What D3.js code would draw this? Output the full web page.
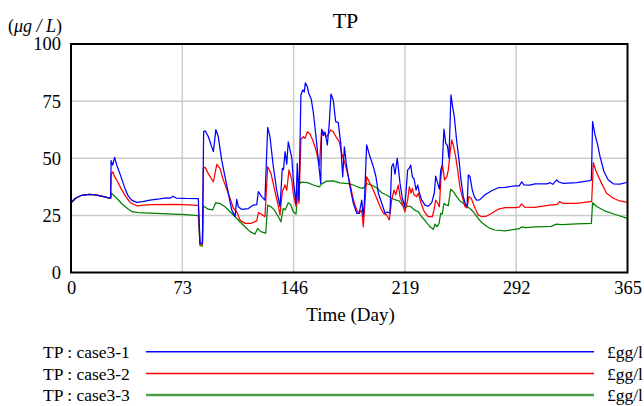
<!DOCTYPE html>
<html>
<head>
<meta charset="utf-8">
<script src="https://cdnjs.cloudflare.com/ajax/libs/d3/7.8.5/d3.min.js"></script>
<style>
body { margin: 0; background: #fff; }
</style>
</head>
<body>
<script>
// day, value pairs
var startPart = [[0,30.5],[3,32.5],[7,33.8],[12,34.2],[16,34],[20,33.4],[24,32.8],[26,32.5]];

var case1 = [[26.3,49],[27.3,47],[28.6,50.4],[30,47],[32,43.4],[35.4,36.8],[37.5,33.5],[39.8,31.7],[43,30.7],[47,31],[51.8,31.7],[58,32.2],[62.7,32.7],[65,32.5],[67,33.4],[69,32.6],[75,32.4],[83.5,32.3],[84.6,12.8],[86.2,12.8],[87,61.7],[88,62],[90,59.5],[93.4,52.9],[95,62.5],[96.6,59.5],[98.8,49.3],[101,42],[103.2,34.7],[105.4,27.4],[107.6,24.5],[108.7,32],[109.7,28.8],[112,27.6],[116.3,28],[119.6,29.5],[121.8,29.7],[122.9,35.4],[125,33.2],[127.2,31.7],[129,63.5],[130.5,59.5],[132.7,46.3],[134.9,36.1],[137.1,28.8],[138.6,45.6],[139.4,45],[140.4,52.9],[141.5,47.4],[142.5,57.2],[144.8,50.3],[145.8,40.5],[147.6,30.3],[148.4,47.8],[149.5,31.7],[150.8,77.7],[152,79.9],[153,79],[153.7,83],[155,81.3],[155.9,78.4],[157.6,75.8],[159,69.7],[160.7,59.4],[162.2,49.2],[163.8,39],[164.4,62.7],[165.5,59.9],[166.6,61.5],[168.1,55.8],[169.4,65.3],[170.5,78.1],[172,75.5],[173.6,66],[175.3,65.6],[176.9,56.5],[178.2,41.9],[179.3,55],[180.8,46.3],[183,37.5],[185.2,30.3],[187.4,25.9],[189,25.9],[190.7,31.7],[191.7,24.4],[192.5,31.7],[193.9,55.8],[196.1,50.7],[198.3,46.3],[200,41.9],[201.6,34.7],[203.8,30.3],[206,25.9],[207.5,26.5],[209.2,25.9],[210.3,46.3],[211.4,47.7],[212.5,43],[214,50],[215.8,39],[217.3,32.5],[219,28.8],[220.8,44.9],[221.8,45.5],[222.8,47],[223.9,41.9],[225,41],[226.3,36.1],[227.4,38.3],[228.3,35.4],[230,31.7],[232.2,29.5],[234.3,29],[236.6,30.6],[238.3,34.8],[239.2,42.2],[240.5,39],[241.6,36.5],[242.5,44.9],[243.5,47],[244.6,62.7],[245.8,56.5],[246.9,55.5],[247.9,50],[249.2,77.7],[250.3,72.6],[251.4,68.2],[252.9,58],[254.5,49.2],[255.8,40.5],[257.3,33.2],[258.9,29.5],[259.8,29],[260.6,42.7],[261.7,42],[263.2,36.1],[264.5,33.2],[266,31.7],[268,31.8],[271.5,34],[275.9,35.8],[280.3,37.1],[284.7,37.3],[291.2,37.9],[294,37.9],[295.6,39.7],[297.1,38.3],[301,38.2],[304.3,38.8],[312,38.8],[314.2,39.3],[316,38.6],[318.5,40.5],[320,39.6],[322.9,39],[331.7,39.3],[338.2,40],[340.4,40.2],[341.3,40.5],[342.1,66],[343.7,60.2],[345.2,56.5],[347,50.7],[349.6,44.1],[352.4,40.5],[355.7,38.8],[360,38.7],[365,39.5]];

var case2 = [[26.3,43],[27.5,44],[28.5,42],[30,40.5],[33,36.5],[36,33.2],[39,30.5],[43,29.2],[52,29.7],[70,29.8],[83.5,29.4],[84.6,12.5],[86.2,12.3],[86.8,45.6],[88,46],[90.5,42.7],[93.4,39.7],[95.6,47.3],[97.7,45.6],[99.9,40.5],[102,36.8],[104.3,32.5],[106.5,28.1],[108.7,26.6],[110.8,23],[114.1,21.5],[118,21.5],[121.8,22.6],[122.9,26.2],[125,25.5],[127.2,24.4],[129,46.3],[131.2,43.3],[133.3,36.8],[135.6,30.3],[137.1,25.2],[138.6,35.4],[140.4,38.3],[141.5,36],[143,44.9],[144.8,40.5],[145.8,34.7],[147.6,28.8],[148.4,36.1],[149.5,30.3],[150.8,58.3],[152.4,59.4],[153.5,58.7],[155,61.6],[156.8,60.6],[158.5,58],[160.7,53.6],[162.9,47],[164.4,62.4],[165.5,61.6],[167.2,59.4],[168.5,60.2],[170.3,62.4],[172,61.6],[173.8,59.4],[176,57.2],[177.5,52.2],[179,49.2],[180.8,44.9],[183,39],[185.2,31.7],[187.4,27.4],[189,25.9],[190.7,27.4],[191.7,20],[192.5,27.4],[193.9,41.9],[196.1,39],[198.3,36.1],[200.5,32.5],[202.7,28.8],[204.9,25.9],[207,25.2],[208.8,23],[210.3,31.7],[211.9,36.1],[213,34],[214.7,38.3],[215.8,33.2],[217.3,30.3],[219,26.6],[220.8,31.7],[221.9,37.5],[223,34.7],[223.9,36.8],[225,34],[226.7,33.2],[227.8,34.7],[229.6,30.3],[231.7,26.6],[234.3,24.4],[237,24.4],[238.3,28.1],[239.2,31.7],[240.5,30.3],[241.6,28.8],[242.7,41.9],[243.7,47],[245,40.5],[246.5,41.9],[247.5,44.9],[248.6,52.2],[249.7,58],[250.8,55.6],[252.3,50.7],[253.6,44.9],[255.1,37.5],[256.6,33.2],[258.4,28.8],[259.8,28.3],[261,33.2],[262.5,32.5],[265,28.1],[267.1,25.2],[269.4,24.4],[272.6,24.7],[275.9,25.9],[280.3,27.7],[284.7,28.4],[291.2,28.4],[294,28.6],[295.6,30],[297.5,28.6],[304,28.5],[314,29.5],[319,29.8],[320.5,31],[322.9,30.2],[331.7,30.3],[340.4,31],[341.5,31],[342.6,48.1],[344.5,44.1],[348,39],[351.3,34.7],[355.7,32.5],[360,31.3],[365,30.7]];

var case3 = [[26.5,34.7],[30,32.5],[33,30.3],[37,28],[40,26.6],[44,26.2],[60,25.8],[75,25.3],[83.5,24.9],[84.6,11.8],[86.2,11.6],[86.8,29.1],[90,27.7],[92.9,27.4],[94.9,30.5],[97.5,30.3],[101,28.8],[104.3,26.6],[107.6,24.4],[110.8,22.2],[114.1,20],[117.4,17.9],[120.7,16.8],[122.4,19.3],[124.5,17.9],[127.7,17.2],[129,29.5],[131.2,28.8],[133.3,27.4],[136,24.4],[137.7,22.2],[139.2,28.1],[140.5,27.4],[142.5,30.5],[144,29.8],[145.8,26.6],[147.6,25.6],[149.1,38.3],[150.8,39.5],[155,39.3],[159,38.3],[162.9,37.5],[164.4,38.8],[167.7,40],[172,40.1],[176.4,39.2],[181.9,38.9],[185.2,38.3],[188.5,37.3],[191.7,36.8],[193.9,38.9],[197,38.3],[200.5,37],[203.8,34.9],[207,33.9],[210.3,32.5],[213.2,31.7],[215,31.5],[217.3,29.5],[219,28.1],[220.8,29.1],[223,28.8],[225.2,27.4],[227.8,26.6],[230,24.4],[233.3,21.8],[235.5,20],[237.6,18.9],[238.8,21.2],[240,20],[241.4,21.5],[242.5,25.9],[243.5,25.6],[244.6,30.3],[245.8,29.6],[247.5,29.3],[249,36.4],[250.8,35.4],[252.9,33.2],[255.1,31.3],[257.3,30.3],[259.5,28.8],[261.5,28.1],[263.8,26.6],[266,24.7],[268.9,22.2],[271.5,20.8],[274.8,19.3],[278.1,18.6],[284.7,18.2],[291.2,18.9],[294,19.2],[295.6,20],[298,19.6],[305,20],[315,20.2],[318.3,21.2],[322,21],[331.7,21.3],[341.3,21.5],[342.1,30.5],[345,28.8],[350,27],[356,25.6],[365,23.7]];

var seriesNames = ["TP : case3-1", "TP : case3-2", "TP : case3-3"];
var seriesColors = ["#0000ff", "#ff0000", "#008000"];
var legendColors = ["#0000ff", "#ff0000", "#4ca04c"];
var xTicks = [0, 73, 146, 219, 292, 365];
var yTicks = [0, 25, 50, 75, 100];
var unitLabel = "£gg/l";

var W = 644, H = 406;
var plot = {left: 71, right: 627.5, top: 44, bottom: 272.5};
var SERIF = "'Liberation Serif', 'DejaVu Serif', serif";

function addSvg(){
	return d3.select("body")
	.append("svg")
	.attr("width", W)
	.attr("height", H);
}

function drawGrid(svg, x, y){
	svg.append("g")
	.selectAll("line")
	.data(xTicks.slice(1, -1))
	.enter().append("line")
	.attr("x1", x).attr("x2", x)
	.attr("y1", plot.top).attr("y2", plot.bottom)
	.attr("stroke", "#cccccc").attr("stroke-width", 1.5);

	svg.append("g")
	.selectAll("line")
	.data(yTicks.slice(1, -1))
	.enter().append("line")
	.attr("y1", y).attr("y2", y)
	.attr("x1", plot.left).attr("x2", plot.right)
	.attr("stroke", "#cccccc").attr("stroke-width", 1.5);
}

function drawAxes(svg, x, y){
	var xAxis = d3.axisBottom(x).tickValues(xTicks).tickSize(0).tickPadding(8);
	var gx = svg.append("g")
	.attr("transform", "translate(0," + plot.bottom + ")")
	.call(xAxis);
	gx.select(".domain").remove();
	gx.selectAll("text")
	.style("font-family", SERIF)
	.style("font-size", "18.5px")
	.attr("fill", "#000");

	var yAxis = d3.axisLeft(y).tickValues(yTicks).tickSize(0).tickPadding(10);
	var gy = svg.append("g")
	.attr("transform", "translate(" + plot.left + ",0)")
	.call(yAxis);
	gy.select(".domain").remove();
	gy.selectAll("text")
	.style("font-family", SERIF)
	.style("font-size", "18.5px")
	.attr("fill", "#000");
}

function drawLines(svg, x, y){
	var line = d3.line()
	.x(function(d){ return x(d[0]); })
	.y(function(d){ return y(d[1]); });

	// green first, blue last on top
	[case3, case2, case1].forEach(function(data, i){
		var idx = 2 - i;
		svg.append("path")
		.datum(startPart.concat(data))
		.attr("d", line)
		.attr("fill", "none")
		.attr("stroke", seriesColors[idx])
		.attr("stroke-width", 1.25)
		.attr("stroke-linejoin", "round");
	});
}

function drawText(svg){
	svg.append("text")
	.attr("x", 345.5)
	.attr("y", 27.5)
	.attr("text-anchor", "middle")
	.style("font-family", SERIF)
	.style("font-size", "22px")
	.text("TP");

	var unit = svg.append("text")
	.attr("x", 8)
	.attr("y", 32)
	.style("font-family", SERIF)
	.style("font-size", "18px");
	unit.append("tspan").text("(");
	unit.append("tspan").style("font-style", "italic").text("\u03bcg / L");
	unit.append("tspan").text(")");

	svg.append("text")
	.attr("x", 350.5)
	.attr("y", 321)
	.attr("text-anchor", "middle")
	.style("font-family", SERIF)
	.style("font-size", "19px")
	.text("Time (Day)");
}

function drawLegend(svg){
	var rows = [351.7, 373.5, 395];
	seriesNames.forEach(function(name, i){
		svg.append("text")
		.attr("x", 43)
		.attr("y", rows[i] + 6)
		.style("font-family", SERIF)
		.style("font-size", "17.5px")
		.text(name);

		svg.append("line")
		.attr("x1", 146).attr("x2", 594)
		.attr("y1", rows[i]).attr("y2", rows[i])
		.attr("stroke", legendColors[i])
		.attr("stroke-width", i == 2 ? 2.3 : 1.4);

		svg.append("text")
		.attr("x", 607)
		.attr("y", rows[i] + 6)
		.style("font-family", SERIF)
		.style("font-size", "17.5px")
		.text(unitLabel);
	});
}

function plotGraph(){
	var svg = addSvg();
	var x = d3.scaleLinear().domain([0, 365]).range([plot.left, plot.right]);
	var y = d3.scaleLinear().domain([0, 100]).range([plot.bottom, plot.top]);

	drawGrid(svg, x, y);
	drawLines(svg, x, y);

	svg.append("rect")
	.attr("x", plot.left).attr("y", plot.top)
	.attr("width", plot.right - plot.left)
	.attr("height", plot.bottom - plot.top)
	.attr("fill", "none")
	.attr("stroke", "#000")
	.attr("stroke-width", 2);

	drawAxes(svg, x, y);
	drawText(svg);
	drawLegend(svg);
}

plotGraph();
</script>
</body>
</html>
